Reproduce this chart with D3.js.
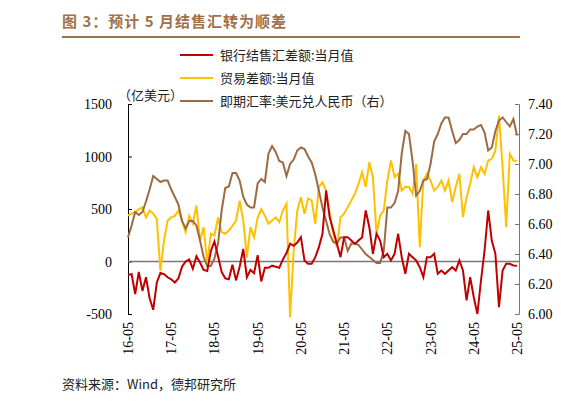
<!DOCTYPE html>
<html><head><meta charset="utf-8">
<script src="https://cdn.jsdelivr.net/npm/d3@7"></script>
<style>body{margin:0;background:#fff}</style></head>
<body><svg id="c" width="582" height="406"></svg>
<script>
// monthly, 2016-05 .. 2025-05
var bankNet = [-130,-120,-310,-100,-280,-150,-350,-460,-200,-110,-120,-150,
  -170,-200,-160,-50,0,20,-70,50,-10,-80,-90,100,
  190,50,-100,-160,-170,-30,-180,-50,120,-150,-80,-110,
  60,-190,-60,-60,-40,-50,-60,20,80,170,150,180,
  232,10,-22,-22,41,137,264,676,422,295,168,41,232,232,200,168,200,232,486,327,73,264,200,41,
  73,10,73,264,41,-117,73,41,10,-54,-149,41,41,73,-117,-86,-117,-86,-54,-86,10,-86,-371,-149,
  -340,-500,-181,105,486,200,73,-435,-86,-22,-22,-38,-40];
var tradeNet = [438,455,470,500,515,420,485,455,405,-90,200,390,420,435,485,390,280,435,360,533,
  200,327,-20,264,248,420,280,264,295,340,390,580,390,40,327,230,420,500,435,360,390,420,375,485,
  550,-530,105,485,
  613,455,600,580,360,710,755,676,455,264,137,422,455,518,580,645,740,850,710,946,803,264,438,485,
  771,962,803,835,676,710,710,645,930,137,771,835,771,676,710,771,676,771,565,710,835,422,613,740,
  898,803,898,835,962,978,1057,1390,900,327,1025,962,960];
var usdCny = [6.51,6.59,6.68,6.66,6.68,6.75,6.83,6.92,6.90,6.88,6.89,6.89,6.83,6.78,6.73,6.62,6.57,
  6.62,6.62,6.59,6.49,6.38,6.32,6.32,6.37,6.47,6.69,6.84,6.85,6.94,6.94,6.89,6.78,6.73,6.71,6.71,
  6.87,6.90,6.88,7.07,7.12,7.08,7.02,7.01,6.92,7.00,7.03,7.09,
  7.11,7.10,7.05,7.01,6.93,6.82,6.71,6.62,6.53,6.48,6.47,6.51,6.51,6.42,6.47,6.47,6.46,6.43,6.40,6.38,
  6.36,6.34,6.34,6.42,6.71,6.71,6.74,6.82,7.07,7.22,7.20,7.02,6.79,6.82,6.89,6.90,7.00,7.15,7.20,7.27,
  7.31,7.31,7.22,7.14,7.16,7.20,7.20,7.23,7.23,7.25,7.26,7.21,7.09,7.11,7.22,7.29,7.31,7.28,7.25,7.30,7.19];
var xLabels = ['16-05','17-05','18-05','19-05','20-05','21-05','22-05','23-05','24-05','25-05'];
var leftTicks = [-500,0,500,1000,1500];
var rightTicks = [6.00,6.20,6.40,6.60,6.80,7.00,7.20,7.40];
var seriesNames = ['银行结售汇差额:当月值','贸易差额:当月值','即期汇率:美元兑人民币（右）'];
var colors = ['#c00000','#ffc000','#9c6b44'];

var svg = d3.select('#c');
var cn = '"Noto Sans CJK SC", sans-serif', num = '"Liberation Serif", "Times New Roman", serif';
var x = d3.scaleLinear().domain([0, 108]).range([128, 517]);
var yL = d3.scaleLinear().domain([-500, 1500]).range([314, 104]);
var yR = d3.scaleLinear().domain([6.0, 7.4]).range([314, 104]);

svg.append('text').attr('x', 62).attr('y', 27).attr('fill', '#a0714a')
  .attr('font-family', cn).attr('font-weight', 'bold').attr('font-size', 15)
  .attr('letter-spacing', 1).text('图 3：预计 5 月结售汇转为顺差');
svg.append('line').attr('x1', 62).attr('x2', 520).attr('y1', 37).attr('y2', 37)
  .attr('stroke', '#a0714a').attr('stroke-width', 2);

seriesNames.forEach(function(n, i) {
  var yy = 55 + i * 23;
  svg.append('line').attr('x1', 180).attr('x2', 213).attr('y1', yy).attr('y2', yy)
    .attr('stroke', colors[i]).attr('stroke-width', 2);
  svg.append('text').attr('x', 220).attr('y', yy + 5).attr('font-family', cn)
    .attr('font-size', 13).attr('fill', '#222').text(n);
});
svg.append('text').attr('x', 118).attr('y', 100).attr('font-family', cn)
  .attr('font-size', 13).attr('fill', '#222').text('（亿美元）');

var gl = svg.append('g').attr('transform', 'translate(128,0)')
  .call(d3.axisRight(yL).tickValues(leftTicks).tickSize(4).tickFormat(''));
gl.select('.domain').attr('stroke', '#000');
leftTicks.forEach(function(t) {
  svg.append('text').attr('x', 112).attr('y', yL(t) + 5).attr('text-anchor', 'end')
    .attr('font-family', num).attr('font-size', 14).text(t);
});
var gr = svg.append('g').attr('transform', 'translate(519,0)')
  .call(d3.axisLeft(yR).tickValues(rightTicks).tickSize(4).tickFormat(''));
gr.selectAll('path,line').attr('stroke', '#777');
rightTicks.forEach(function(t) {
  svg.append('text').attr('x', 528).attr('y', yR(t) + 5)
    .attr('font-family', num).attr('font-size', 14).text(t.toFixed(2));
});

xLabels.forEach(function(l, i) {
  svg.append('text').attr('transform', 'translate(' + (x(i * 12) + 5) + ',322) rotate(-90)')
    .attr('text-anchor', 'end').attr('font-family', num).attr('font-size', 14).text(l);
});

svg.append('line').attr('x1', 128).attr('x2', 519).attr('y1', yL(0)).attr('y2', yL(0))
  .attr('stroke', '#777').attr('stroke-width', 1.5);

function draw(data, y, c) {
  svg.append('path').datum(data).attr('fill', 'none').attr('stroke', c).attr('stroke-width', 2)
    .attr('d', d3.line().x(function(d, i) { return x(i); }).y(function(d) { return y(d); }));
}
draw(tradeNet, yL, colors[1]);
draw(usdCny, yR, colors[2]);
draw(bankNet, yL, colors[0]);

svg.append('text').attr('x', 62).attr('y', 389).attr('font-family', cn)
  .attr('font-size', 13).attr('fill', '#222').text('资料来源：Wind，德邦研究所');
</script></body></html>
